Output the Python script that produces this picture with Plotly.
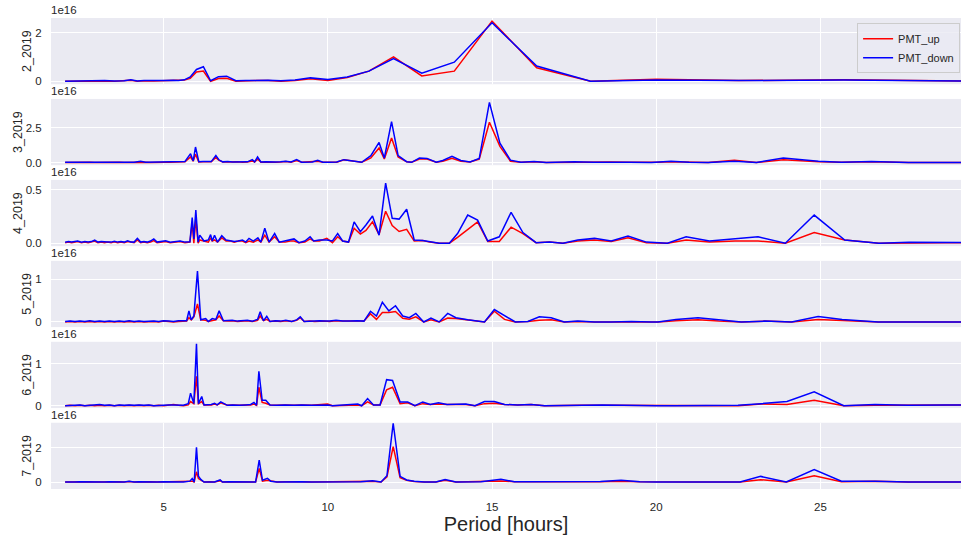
import plotly.graph_objects as go
from plotly.subplots import make_subplots

# Periodogram power of the two PMT channels, in units of 1e16, per month of 2019.

# --- 2_2019 ---
period_02 = [2.0, 2.3, 2.6, 2.9, 3.2, 3.5, 3.8, 4.0, 4.2, 4.4, 4.7, 5.0, 5.29, 5.45, 5.63, 5.81,
             6.0, 6.21, 6.43, 6.67, 6.92, 7.2, 7.5, 7.83, 8.18, 8.57, 9.0, 9.47, 10.0, 10.59,
             11.25, 12.0, 12.86, 13.85, 15.0, 16.36, 18.0, 20.0, 22.5, 25.71, 30.0]
up_02 = [0.0, 0.01, 0.0, 0.02, 0.01, 0.0, 0.02, 0.04, 0.0, 0.02, 0.01, 0.02, 0.03, 0.02, 0.05, 0.12,
         0.38, 0.42, 0.0, 0.11, 0.12, 0.0, 0.02, 0.03, 0.03, 0.0, 0.03, 0.10, 0.03, 0.16,
         0.42, 1.01, 0.22, 0.42, 2.49, 0.56, 0.0, 0.08, 0.03, 0.06, 0.0]
down_02 = [0.0, 0.01, 0.01, 0.02, 0.03, 0.01, 0.02, 0.06, 0.01, 0.03, 0.02, 0.03, 0.04, 0.03, 0.06, 0.18,
           0.49, 0.60, 0.02, 0.19, 0.21, 0.02, 0.03, 0.04, 0.04, 0.02, 0.05, 0.14, 0.07, 0.18,
           0.42, 0.94, 0.33, 0.79, 2.42, 0.63, 0.0, 0.05, 0.03, 0.05, 0.0]

# --- 3_2019 ---
period_03 = [2.0, 2.15, 2.3, 2.45, 2.6, 2.75, 2.9, 3.05, 3.2, 3.35, 3.5, 3.65, 3.8, 3.95, 4.1, 4.3,
             4.45, 4.6, 4.75, 4.9, 5.05, 5.2, 5.35, 5.5, 5.65, 5.82, 5.9, 5.97, 6.07, 6.2, 6.33,
             6.45, 6.59, 6.68, 6.8, 6.95, 7.1, 7.25, 7.4, 7.55, 7.7, 7.77, 7.86, 7.96, 8.1, 8.25,
             8.4, 8.56, 8.72, 8.88, 9.05, 9.2, 9.35, 9.53, 9.69, 9.85, 10.05, 10.27, 10.49, 10.78,
             11.03, 11.31, 11.56, 11.72, 11.94, 12.14, 12.4, 12.55, 12.79, 13.02, 13.3, 13.5,
             13.78, 14.05, 14.33, 14.61, 14.92, 15.24, 15.56, 15.88, 16.28, 16.65, 17.1, 17.5,
             18.1, 18.6, 19.2, 19.85, 20.06, 20.45, 21.0, 21.58, 22.38, 23.05, 23.87, 24.94,
             25.64, 26.55, 27.68, 28.6, 29.76]
up_03 = [0.01, 0.02, 0.01, 0.02, 0.01, 0.02, 0.01, 0.02, 0.01, 0.02, 0.01, 0.02, 0.01, 0.02, 0.01, 0.06,
         0.02, 0.01, 0.03, 0.02, 0.03, 0.02, 0.03, 0.02, 0.05, 0.40, 0.10, 0.60, 0.05, 0.06, 0.04,
         0.05, 0.36, 0.18, 0.04, 0.06, 0.03, 0.05, 0.02, 0.04, 0.12, 0.04, 0.26, 0.03, 0.04, 0.02,
         0.03, 0.04, 0.07, 0.03, 0.15, 0.02, 0.04, 0.03, 0.10, 0.02, 0.02, 0.03, 0.20, 0.08,
         0.02, 0.33, 1.05, 0.26, 1.76, 0.40, 0.05, 0.02, 0.26, 0.25, 0.02, 0.10,
         0.31, 0.10, 0.04, 0.25, 2.90, 1.17, 0.10, 0.02, 0.06, 0.0, 0.02, 0.04,
         0.02, 0.04, 0.02, 0.0, 0.02, 0.06, 0.02, 0.0, 0.17, 0.0, 0.21, 0.05,
         0.02, 0.05, 0.0, 0.0, 0.0]
down_03 = [0.02, 0.03, 0.02, 0.04, 0.02, 0.03, 0.02, 0.04, 0.02, 0.03, 0.02, 0.04, 0.02, 0.03, 0.02, 0.10,
           0.03, 0.03, 0.05, 0.03, 0.06, 0.03, 0.04, 0.03, 0.08, 0.64, 0.12, 1.12, 0.06, 0.08, 0.05,
           0.07, 0.50, 0.20, 0.05, 0.08, 0.04, 0.06, 0.03, 0.05, 0.21, 0.05, 0.40, 0.04, 0.06, 0.03,
           0.04, 0.06, 0.10, 0.04, 0.21, 0.03, 0.05, 0.04, 0.17, 0.03, 0.02, 0.04, 0.21, 0.10,
           0.02, 0.50, 1.45, 0.33, 2.95, 0.50, 0.06, 0.02, 0.33, 0.30, 0.02, 0.15,
           0.45, 0.15, 0.05, 0.29, 4.33, 1.40, 0.17, 0.02, 0.08, 0.0, 0.03, 0.05,
           0.03, 0.05, 0.03, 0.0, 0.02, 0.10, 0.03, 0.0, 0.10, 0.0, 0.33, 0.10,
           0.02, 0.08, 0.0, 0.0, 0.0]

# --- 4_2019 ---
period_04 = [2.0, 2.1, 2.2, 2.3, 2.38, 2.5, 2.6, 2.7, 2.8, 2.9, 3.0, 3.1, 3.2, 3.3, 3.4, 3.5, 3.6,
             3.7, 3.8, 3.9, 4.0, 4.1, 4.2, 4.3, 4.4, 4.5, 4.6, 4.7, 4.8, 4.9, 5.06, 5.2, 5.35, 5.5,
             5.65, 5.8, 5.87, 5.92, 5.98, 6.05, 6.1, 6.23, 6.36, 6.43, 6.48, 6.55, 6.64, 6.77, 6.9,
             7.04, 7.15, 7.27, 7.4, 7.5, 7.6, 7.73, 7.87, 7.96, 8.08, 8.21, 8.38, 8.52, 8.7, 8.85,
             8.97, 9.12, 9.3, 9.46, 9.57, 9.74, 9.97, 10.14, 10.3, 10.45, 10.63, 10.8, 10.99,
             11.16, 11.36, 11.56, 11.76, 11.96, 12.17, 12.4, 12.63, 12.89, 13.1, 13.39, 13.7,
             13.95, 14.26, 14.56, 14.87, 15.22, 15.58, 15.94, 16.34, 16.75, 17.16, 17.61, 18.12,
             18.63, 19.14, 19.7, 20.34, 20.91, 21.62, 22.4, 23.1, 23.93, 24.81, 25.74, 26.78,
             27.7, 28.8, 30.0]
up_04 = [0.005, 0.01, 0.005, 0.01, 0.015, 0.005, 0.01, 0.005, 0.01, 0.02, 0.005, 0.01, 0.005, 0.01,
         0.005, 0.012, 0.005, 0.01, 0.005, 0.015, 0.01, 0.005, 0.03, 0.005, 0.01, 0.005, 0.01,
         0.025, 0.005, 0.01, 0.015, 0.005, 0.01, 0.015, 0.005, 0.01, 0.19, 0.0, 0.23, 0.0, 0.03,
         0.02, 0.01, 0.05, 0.02, 0.03, 0.01, 0.05, 0.02, 0.02, 0.01, 0.02, 0.02, 0.005, 0.02,
         0.01, 0.03, 0.01, 0.075, 0.01, 0.06, 0.01, 0.01, 0.02, 0.02, 0.005, 0.01, 0.04, 0.02,
         0.02, 0.045, 0.005, 0.06, 0.02, 0.01, 0.14, 0.085, 0.12, 0.20, 0.08, 0.30, 0.165, 0.11,
         0.13, 0.02, 0.025, 0.01, 0.0, 0.0, 0.055, 0.13, 0.20, 0.015, 0.015, 0.15, 0.09, 0.005,
         0.01, 0.0, 0.02, 0.03, 0.015, 0.05, 0.005, 0.0, 0.03, 0.01, 0.02, 0.02, 0.0, 0.10,
         0.03, 0.0, 0.005, 0.005, 0.005]
down_04 = [0.008, 0.015, 0.01, 0.012, 0.02, 0.008, 0.015, 0.01, 0.015, 0.028, 0.01, 0.015, 0.01,
           0.012, 0.01, 0.018, 0.01, 0.015, 0.01, 0.022, 0.012, 0.01, 0.045, 0.01, 0.015, 0.01,
           0.02, 0.04, 0.01, 0.015, 0.022, 0.008, 0.015, 0.02, 0.01, 0.012, 0.24, 0.04, 0.31, 0.01,
           0.075, 0.02, 0.03, 0.08, 0.02, 0.075, 0.01, 0.07, 0.03, 0.02, 0.015, 0.02, 0.03, 0.01,
           0.045, 0.02, 0.05, 0.01, 0.14, 0.01, 0.09, 0.01, 0.02, 0.03, 0.04, 0.005, 0.02, 0.06,
           0.02, 0.03, 0.03, 0.02, 0.09, 0.02, 0.01, 0.20, 0.107, 0.17, 0.255, 0.075, 0.563, 0.233,
           0.226, 0.318, 0.03, 0.025, 0.015, 0.0, 0.0, 0.09, 0.264, 0.217, 0.02, 0.06, 0.29, 0.10,
           0.005, 0.01, 0.0, 0.03, 0.045, 0.02, 0.066, 0.01, 0.0, 0.06, 0.02, 0.04, 0.06, 0.0,
           0.264, 0.03, 0.0, 0.008, 0.005, 0.005]

# --- 5_2019 ---
period_05 = [2.0, 2.15, 2.3, 2.45, 2.6, 2.75, 2.9, 3.05, 3.2, 3.35, 3.5, 3.65, 3.8, 3.95, 4.1, 4.25,
             4.4, 4.55, 4.7, 4.85, 5.0, 5.15, 5.3, 5.45, 5.6, 5.7, 5.77, 5.84, 5.92, 6.03, 6.13,
             6.28, 6.36, 6.48, 6.59, 6.69, 6.82, 6.95, 7.09, 7.25, 7.4, 7.55, 7.7, 7.86, 7.94, 8.04,
             8.14, 8.24, 8.4, 8.56, 8.72, 8.9, 9.05, 9.16, 9.28, 9.45, 9.6, 9.75, 9.89, 10.05,
             10.25, 10.45, 10.65, 10.9, 11.1, 11.3, 11.48, 11.66, 11.86, 12.06, 12.28, 12.48,
             12.68, 12.92, 13.14, 13.39, 13.65, 13.9, 14.26, 14.77, 15.07, 15.38, 15.71, 16.09,
             16.44, 16.8, 17.2, 17.61, 18.12, 18.63, 19.24, 19.85, 20.05, 20.6, 21.27, 21.9, 22.59,
             23.3, 24.12, 24.93, 25.66, 26.76, 27.56, 28.6, 29.76]
up_05 = [0.0, 0.01, 0.0, 0.01, 0.0, 0.01, 0.0, 0.01, 0.0, 0.01, 0.0, 0.01, 0.0, 0.01, 0.0, 0.01,
         0.0, 0.01, 0.01, 0.0, 0.02, 0.01, 0.0, 0.01, 0.01, 0.02, 0.10, 0.05, 0.12, 0.42, 0.05,
         0.04, 0.01, 0.04, 0.05, 0.14, 0.03, 0.02, 0.03, 0.01, 0.02, 0.03, 0.01, 0.04, 0.14, 0.03,
         0.06, 0.01, 0.02, 0.01, 0.03, 0.01, 0.04, 0.10, 0.01, 0.02, 0.01, 0.02, 0.02, 0.01,
         0.03, 0.02, 0.02, 0.03, 0.02, 0.19, 0.06, 0.22, 0.22, 0.245, 0.085, 0.065,
         0.12, 0.0, 0.05, 0.0, 0.09, 0.08, 0.04, 0.0, 0.25, 0.06, 0.0, 0.01,
         0.04, 0.05, 0.0, 0.01, 0.0, 0.0, 0.01, 0.0, 0.0, 0.03, 0.05, 0.02, 0.0,
         0.02, 0.0, 0.06, 0.03, 0.0, 0.0, 0.0, 0.0]
down_05 = [0.01, 0.02, 0.01, 0.02, 0.01, 0.03, 0.01, 0.02, 0.01, 0.02, 0.01, 0.02, 0.01, 0.03, 0.01,
           0.02, 0.01, 0.02, 0.02, 0.01, 0.03, 0.02, 0.01, 0.03, 0.02, 0.03, 0.26, 0.05, 0.14, 1.19,
           0.05, 0.08, 0.01, 0.08, 0.06, 0.26, 0.03, 0.03, 0.04, 0.02, 0.03, 0.04, 0.02, 0.06, 0.24,
           0.03, 0.13, 0.01, 0.03, 0.02, 0.04, 0.01, 0.05, 0.12, 0.01, 0.02, 0.02, 0.03, 0.02, 0.02,
           0.04, 0.02, 0.02, 0.03, 0.02, 0.25, 0.14, 0.46, 0.26, 0.38, 0.14, 0.10,
           0.20, 0.0, 0.09, 0.0, 0.20, 0.10, 0.05, 0.0, 0.29, 0.14, 0.0, 0.01,
           0.12, 0.10, 0.0, 0.02, 0.0, 0.0, 0.01, 0.0, 0.0, 0.06, 0.10, 0.05, 0.0,
           0.02, 0.0, 0.13, 0.06, 0.0, 0.0, 0.0, 0.0]

# --- 6_2019 ---
period_06 = [2.0, 2.15, 2.3, 2.45, 2.6, 2.75, 2.9, 3.05, 3.2, 3.35, 3.5, 3.65, 3.8, 3.95, 4.1, 4.25,
             4.4, 4.55, 4.7, 4.85, 5.0, 5.15, 5.3, 5.45, 5.6, 5.75, 5.82, 5.92, 6.0, 6.06, 6.16,
             6.23, 6.33, 6.45, 6.55, 6.63, 6.74, 6.94, 7.1, 7.3, 7.5, 7.65, 7.75, 7.83, 7.9, 8.0,
             8.11, 8.24, 8.45, 8.7, 8.97, 9.2, 9.5, 9.79, 9.99, 10.14, 10.37, 10.6, 10.91, 11.03,
             11.21, 11.39, 11.59, 11.79, 11.97, 12.2, 12.43, 12.65, 12.89, 13.12, 13.37, 13.63,
             13.95, 14.2, 14.48, 14.77, 15.07, 15.38, 15.78, 16.19, 16.6, 17.14, 17.7, 18.35, 19.0,
             19.5, 20.0, 20.57, 21.18, 21.82, 22.49, 23.2, 23.98, 24.81, 25.71, 26.66, 27.67, 28.8,
             30.0]
up_06 = [0.0, 0.01, 0.0, 0.01, 0.0, 0.01, 0.0, 0.01, 0.0, 0.01, 0.0, 0.01, 0.0, 0.01, 0.0, 0.01,
         0.0, 0.01, 0.0, 0.01, 0.0, 0.01, 0.03, 0.01, 0.0, 0.02, 0.10, 0.05, 0.70, 0.05, 0.10,
         0.02, 0.02, 0.02, 0.04, 0.02, 0.07, 0.01, 0.02, 0.01, 0.02, 0.02, 0.04, 0.01, 0.44, 0.08,
         0.06, 0.02, 0.01, 0.02, 0.01, 0.02, 0.01, 0.02, 0.04, 0.0, 0.01, 0.01, 0.02, 0.0,
         0.09, 0.02, 0.02, 0.38, 0.44, 0.05, 0.07, 0.0, 0.05, 0.03, 0.04, 0.03,
         0.03, 0.03, 0.0, 0.05, 0.06, 0.03, 0.02, 0.03, 0.0, 0.01, 0.01, 0.01, 0.01,
         0.0, 0.0, 0.0, 0.0, 0.0, 0.0, 0.04, 0.03, 0.13, 0.0, 0.01, 0.01, 0.02,
         0.02]
down_06 = [0.0, 0.01, 0.01, 0.02, 0.0, 0.01, 0.01, 0.03, 0.01, 0.02, 0.0, 0.02, 0.01, 0.02, 0.01, 0.02,
           0.01, 0.02, 0.0, 0.01, 0.01, 0.02, 0.02, 0.01, 0.01, 0.05, 0.30, 0.05, 1.47, 0.05, 0.22,
           0.02, 0.02, 0.03, 0.06, 0.02, 0.09, 0.01, 0.02, 0.01, 0.02, 0.03, 0.08, 0.01, 0.82, 0.13,
           0.13, 0.02, 0.01, 0.02, 0.01, 0.02, 0.01, 0.02, 0.02, 0.0, 0.01, 0.01, 0.04, 0.0,
           0.17, 0.02, 0.02, 0.62, 0.60, 0.09, 0.09, 0.0, 0.09, 0.03, 0.07, 0.03,
           0.04, 0.04, 0.0, 0.10, 0.10, 0.03, 0.02, 0.03, 0.0, 0.01, 0.02, 0.02, 0.01,
           0.0, 0.0, 0.0, 0.0, 0.0, 0.01, 0.05, 0.10, 0.33, 0.0, 0.03, 0.01, 0.02,
           0.02]

# --- 7_2019 ---
period_07 = [2.0, 2.15, 2.3, 2.45, 2.6, 2.75, 2.9, 3.05, 3.2, 3.35, 3.5, 3.65, 3.8, 3.95, 4.1, 4.25,
             4.4, 4.6, 4.8, 5.0, 5.2, 5.4, 5.6, 5.8, 5.87, 5.93, 6.0, 6.06, 6.13, 6.23, 6.4, 6.55,
             6.72, 6.79, 7.0, 7.2, 7.4, 7.6, 7.8, 7.91, 8.01, 8.16, 8.26, 8.45, 8.7, 8.97, 9.2, 9.5,
             9.8, 10.1, 10.4, 10.7, 11.0, 11.36, 11.62, 11.8, 11.99, 12.2, 12.4, 12.63, 12.94,
             13.29, 13.57, 13.9, 14.25, 14.66, 15.27, 15.68, 16.2, 16.9, 17.7, 18.3, 18.93, 19.5,
             20.0, 21.0, 22.55, 23.18, 23.96, 24.81, 25.64, 26.66, 27.67, 28.6, 29.76]
up_07 = [0.0, 0.01, 0.0, 0.01, 0.0, 0.01, 0.0, 0.01, 0.0, 0.01, 0.0, 0.01, 0.0, 0.03, 0.0, 0.01,
         0.0, 0.01, 0.0, 0.01, 0.0, 0.01, 0.0, 0.03, 0.05, 0.0, 0.60, 0.20, 0.10, 0.0, 0.01, 0.0,
         0.08, 0.0, 0.01, 0.0, 0.01, 0.0, 0.0, 0.80, 0.05, 0.10, 0.05, 0.0, 0.01, 0.03, 0.01, 0.0,
         0.01, 0.0, 0.01, 0.02, 0.01, 0.05, 0.0, 0.30, 2.08, 0.25, 0.10, 0.03, 0.0,
         0.0, 0.10, 0.0, 0.01, 0.02, 0.06, 0.02, 0.01, 0.01, 0.01, 0.02, 0.05, 0.01,
         0.0, 0.0, 0.0, 0.14, 0.0, 0.37, 0.02, 0.04, 0.0, 0.0, 0.0]
down_07 = [0.0, 0.02, 0.0, 0.01, 0.0, 0.02, 0.0, 0.01, 0.0, 0.02, 0.0, 0.01, 0.0, 0.05, 0.0, 0.01,
           0.0, 0.02, 0.0, 0.01, 0.0, 0.02, 0.0, 0.05, 0.20, 0.0, 2.04, 0.35, 0.15, 0.0, 0.01, 0.0,
           0.12, 0.0, 0.01, 0.0, 0.01, 0.0, 0.0, 1.29, 0.10, 0.22, 0.05, 0.0, 0.01, 0.03, 0.01, 0.0,
           0.01, 0.0, 0.01, 0.02, 0.01, 0.08, 0.0, 0.37, 3.45, 0.33, 0.12, 0.05, 0.0,
           0.0, 0.14, 0.0, 0.01, 0.02, 0.16, 0.02, 0.02, 0.01, 0.02, 0.03, 0.10, 0.01,
           0.0, 0.0, 0.0, 0.33, 0.0, 0.73, 0.05, 0.05, 0.0, 0.0, 0.0]

month_labels = ["2_2019", "3_2019", "4_2019", "5_2019", "6_2019", "7_2019"]
periods = [period_02, period_03, period_04, period_05, period_06, period_07]
ups = [up_02, up_03, up_04, up_05, up_06, up_07]
downs = [down_02, down_03, down_04, down_05, down_06, down_07]

# axis settings per panel (values in units of 1e16)
y_ranges = [[-0.124, 2.62], [-0.19, 4.58], [-0.028, 0.594], [-0.12, 1.43], [-0.055, 1.52], [-0.41, 3.48]]
y_tickvals = [[0, 2], [0, 2.5], [0, 0.5], [0, 1], [0, 1], [0, 2]]
y_ticktext = [["0", "2"], ["0.0", "2.5"], ["0.0", "0.5"], ["0", "1"], ["0", "1"], ["0", "2"]]
x_ticks = [5, 10, 15, 20, 25]

TEXT = "#262626"
FONT = "Liberation Sans, Arial, sans-serif"

fig = make_subplots(rows=6, cols=1, shared_xaxes=True, vertical_spacing=0.0312)

for i in range(6):
    r = i + 1
    fig.add_trace(go.Scatter(x=periods[i], y=ups[i], mode="lines", name="PMT_up",
                             line=dict(color="#ff0000", width=1.5),
                             legendgroup="up", showlegend=(i == 0)), row=r, col=1)
    fig.add_trace(go.Scatter(x=periods[i], y=downs[i], mode="lines", name="PMT_down",
                             line=dict(color="#0000ff", width=1.5),
                             legendgroup="down", showlegend=(i == 0)), row=r, col=1)
    fig.update_yaxes(row=r, col=1, range=y_ranges[i], tickvals=y_tickvals[i], ticktext=y_ticktext[i],
                     showgrid=True, gridcolor="white", gridwidth=1, zeroline=False, showline=False,
                     ticks="outside", ticklen=6, tickcolor="rgba(0,0,0,0)",
                     tickfont=dict(size=11.5, color=TEXT, family=FONT),
                     title=dict(text=month_labels[i], font=dict(size=12.5, color=TEXT, family=FONT), standoff=0))
    fig.update_xaxes(row=r, col=1, range=[1.57, 29.28], tickvals=x_ticks,
                     showgrid=True, gridcolor="white", gridwidth=1, zeroline=False, showline=False,
                     ticks="outside", ticklen=7, tickcolor="rgba(0,0,0,0)",
                     tickfont=dict(size=11.5, color=TEXT, family=FONT))
    yref = "y domain" if r == 1 else f"y{r} domain"
    xref = "x domain" if r == 1 else f"x{r} domain"
    fig.add_annotation(text="1e16", x=0, y=1, xref=xref, yref=yref, xanchor="left", yanchor="bottom",
                       showarrow=False, font=dict(size=11.5, color=TEXT, family=FONT), xshift=-2)

fig.update_xaxes(row=6, col=1, title=dict(text="Period [hours]", font=dict(size=20, color=TEXT, family=FONT),
                                          standoff=2))

fig.update_layout(
    width=961, height=535,
    margin=dict(l=51, r=0, t=18, b=46, autoexpand=False),
    paper_bgcolor="white", plot_bgcolor="#EAEAF2",
    font=dict(family=FONT, color=TEXT),
    showlegend=True,
    legend=dict(x=0.999, y=0.9887, xanchor="right", yanchor="top",
                bgcolor="rgba(234,234,242,0.8)", bordercolor="#cccccc", borderwidth=1,
                font=dict(size=11, color=TEXT, family=FONT), tracegroupgap=0),
)

fig.write_html("out.html")
